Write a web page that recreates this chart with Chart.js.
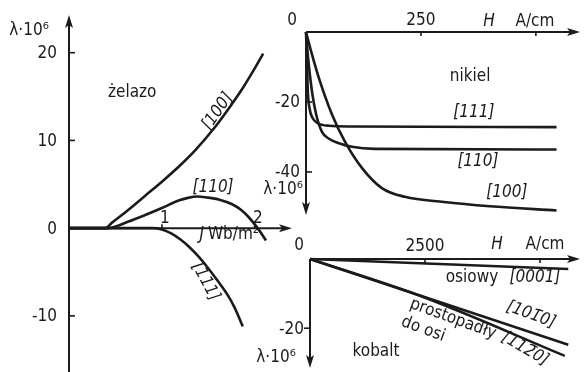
<!DOCTYPE html>
<html>
<head>
<meta charset="utf-8">
<script src="https://cdn.jsdelivr.net/npm/chart.js@4"></script>
<style>
  body { margin: 0; background: #fff; }
  #wrap { position: relative; width: 586px; height: 372px; overflow: hidden; background: #fff; }
  #wrap canvas { position: absolute; }
</style>
</head>
<body>
<div id="wrap">
  <canvas id="feChart" width="300" height="372" style="left:0;top:0"></canvas>
  <canvas id="niChart" width="324" height="232" style="left:262px;top:0"></canvas>
  <canvas id="coChart" width="346" height="136" style="left:240px;top:236px"></canvas>
</div>
<script>
// żelazo: λ·10⁶ against J [Wb/m²]
const feJ100 = [0, 0.39, 0.46, 0.64, 0.82, 1.0, 1.18, 1.36, 1.57, 1.71, 1.86, 1.97, 2.09];
const feL100 = [0, 0, 0.6, 2.1, 3.7, 5.3, 7.0, 8.9, 11.5, 13.5, 15.8, 17.7, 19.9];
const feJ110 = [0, 0.42, 0.64, 0.82, 1.0, 1.18, 1.28, 1.38, 1.48, 1.62, 1.75, 1.85, 1.93, 2.03, 2.12];
const feL110 = [0, 0, 0.75, 1.5, 2.3, 3.15, 3.45, 3.6, 3.5, 3.25, 2.75, 2.1, 1.3, 0, -1.4];
const feJ111 = [0, 0.9, 1.0, 1.1, 1.2, 1.3, 1.4, 1.5, 1.6, 1.7, 1.78, 1.87];
const feL111 = [0, 0, -0.15, -0.6, -1.3, -2.2, -3.3, -4.6, -6.0, -7.5, -9.0, -11.2];
const feYTicks = [20, 10, 0, -10];
const feXTicks = [1, 2];

// nikiel: λ·10⁶ against H [A/cm]
const niH111 = [0, 2, 4, 8, 14, 25, 50, 100, 545];
const niL111 = [0, -8, -17, -22, -24.5, -26, -26.8, -27, -27.2];
const niH110 = [0, 5, 13, 22, 35, 50, 70, 100, 150, 545];
const niL110 = [0, -8, -17, -23.5, -28.6, -30.5, -31.7, -32.8, -33.4, -33.6];
const niH100 = [0, 10, 26, 57, 85, 122, 165, 215, 300, 400, 545];
const niL100 = [0, -5, -12.3, -23.7, -31.4, -38.9, -44.6, -47.1, -48.6, -49.8, -51];
const niYTicks = [-20, -40];
const niXTicks = [250, 500];
const niXTickLabels = ['250', ''];

// kobalt: λ·10⁶ against H [A/cm]
const coH0001 = [0, 5615];
const coL0001 = [0, -2.9];
const coH1010 = [0, 5615];
const coL1010 = [0, -24.8];
const coH1120 = [0, 2460, 5540];
const coL1120 = [0, -11, -28];
const coYTicks = [-20];
const coXTicks = [2500, 5000];
const coXTickLabels = ['2500', ''];

const INK = '#1b1b1b';
const FAMILY = '"DejaVu Sans Condensed", "DejaVu Sans", sans-serif';
const FONT = '17px ' + FAMILY;
const ITALIC = 'italic 17px ' + FAMILY;

function pts(xs, ys) {
  return xs.map((x, i) => ({ x: x, y: ys[i] }));
}

function arrow(ctx, x, y, dx, dy) {
  const len = 13, half = 4;
  const px = -dy, py = dx;
  ctx.beginPath();
  ctx.moveTo(x, y);
  ctx.lineTo(x - dx * len + px * half, y - dy * len + py * half);
  ctx.lineTo(x - dx * (len - 3), y - dy * (len - 3));
  ctx.lineTo(x - dx * len - px * half, y - dy * len - py * half);
  ctx.closePath();
  ctx.fill();
}

function text(ctx, t, x, y, rot, font, align) {
  ctx.save();
  ctx.translate(x, y);
  ctx.rotate((rot || 0) * Math.PI / 180);
  ctx.font = font || FONT;
  ctx.textAlign = align || 'center';
  ctx.textBaseline = 'middle';
  ctx.fillText(t, 0, 0);
  ctx.restore();
}

// axes through zero with arrow heads, short ticks and the labels
const decorPlugin = {
  id: 'decor',
  afterDatasetsDraw(chart, args, o) {
    const ctx = chart.ctx;
    const xs = chart.scales.x, ys = chart.scales.y;
    const x0 = xs.getPixelForValue(0), y0 = ys.getPixelForValue(0);
    ctx.save();
    ctx.strokeStyle = INK;
    ctx.fillStyle = INK;
    ctx.lineWidth = 2;
    ctx.lineCap = 'butt';

    // x axis
    ctx.beginPath();
    ctx.moveTo(x0, y0);
    ctx.lineTo(xs.right - 8, y0);
    ctx.stroke();
    arrow(ctx, xs.right, y0, 1, 0);

    // y axis
    ctx.beginPath();
    if (o.yArrow === 'up') {
      ctx.moveTo(x0, chart.height);
      ctx.lineTo(x0, ys.top + 8);
      ctx.stroke();
      arrow(ctx, x0, ys.top, 0, -1);
    } else {
      ctx.moveTo(x0, y0);
      ctx.lineTo(x0, ys.bottom - 8);
      ctx.stroke();
      arrow(ctx, x0, ys.bottom, 0, 1);
    }

    ctx.lineWidth = 1.6;
    o.yTicks.forEach(v => {
      const y = ys.getPixelForValue(v);
      if (v !== 0) {
        ctx.beginPath();
        ctx.moveTo(x0, y);
        ctx.lineTo(x0 + o.yTickLen, y);
        ctx.stroke();
      }
      text(ctx, String(v), x0 - o.yLabelGap, y + 1, 0, FONT, 'right');
    });
    o.xTicks.forEach((v, i) => {
      const x = xs.getPixelForValue(v);
      ctx.beginPath();
      ctx.moveTo(x, y0);
      ctx.lineTo(x, y0 + o.xTickLen);
      ctx.stroke();
      text(ctx, o.xTickLabels[i], x + o.xLabelDx, y0 + o.xLabelDy);
    });

    o.texts.forEach(t => {
      text(ctx, t.t, xs.getPixelForValue(t.x), ys.getPixelForValue(t.y), t.rot, t.it ? ITALIC : FONT);
    });
    ctx.restore();
  }
};

function makeChart(id, series, xRange, yRange, pad, decor) {
  return new Chart(document.getElementById(id), {
    type: 'scatter',
    data: {
      datasets: series.map(s => ({
        data: s,
        showLine: true,
        borderColor: INK,
        borderWidth: 2.6,
        pointRadius: 0,
        cubicInterpolationMode: 'monotone',
        fill: false,
        clip: false
      }))
    },
    options: {
      responsive: false,
      animation: false,
      events: [],
      layout: { padding: pad },
      scales: {
        x: { type: 'linear', display: false, min: xRange[0], max: xRange[1] },
        y: { type: 'linear', display: false, min: yRange[0], max: yRange[1] }
      },
      plugins: { legend: { display: false }, tooltip: { enabled: false }, decor: decor }
    },
    plugins: [decorPlugin]
  });
}

makeChart('feChart',
  [pts(feJ100, feL100), pts(feJ110, feL110), pts(feJ111, feL111)],
  [0, 2.4], [-16.4, 24.3],
  { left: 69, right: 8, top: 15, bottom: 0 },
  {
    yArrow: 'up', yTicks: feYTicks, yTickLen: 6, yLabelGap: 12,
    xTicks: feXTicks, xTickLabels: feXTicks.map(String), xTickLen: -4, xLabelDx: 3, xLabelDy: -10,
    texts: [
      { t: 'λ·10⁶', x: -0.43, y: 22.5 },
      { t: 'żelazo', x: 0.68, y: 15.5 },
      { t: '[100]', x: 1.60, y: 13.3, rot: -55, it: true },
      { t: '[110]', x: 1.55, y: 4.6, it: true },
      { t: '[111]', x: 1.47, y: -6.1, rot: 62, it: true },
      { t: 'J', x: 1.43, y: -0.7, it: true },
      { t: 'Wb/m²', x: 1.77, y: -0.7 }
    ]
  });

makeChart('niChart',
  [pts(niH111, niL111), pts(niH110, niL110), pts(niH100, niL100)],
  [0, 596], [-52.3, 0],
  { left: 44, right: 6, top: 32, bottom: 17 },
  {
    yArrow: 'down', yTicks: niYTicks, yTickLen: 6, yLabelGap: 6,
    xTicks: niXTicks, xTickLabels: niXTickLabels, xTickLen: 4, xLabelDx: 0, xLabelDy: -11,
    texts: [
      { t: '0', x: -30, y: 3.4 },
      { t: 'H', x: 398, y: 3.1, it: true },
      { t: 'A/cm', x: 498, y: 3.1 },
      { t: 'nikiel', x: 357, y: -12.6 },
      { t: '[111]', x: 365, y: -22.9, it: true },
      { t: '[110]', x: 374, y: -37.1, it: true },
      { t: '[100]', x: 437, y: -46, it: true },
      { t: 'λ·10⁶', x: -50, y: -44.9 }
    ]
  });

makeChart('coChart',
  [pts(coH0001, coL0001), pts(coH1010, coL1010), pts(coH1120, coL1120)],
  [0, 5870], [-31.5, 0],
  { left: 70, right: 6, top: 23, bottom: 4 },
  {
    yArrow: 'down', yTicks: coYTicks, yTickLen: -6, yLabelGap: 6,
    xTicks: coXTicks, xTickLabels: coXTickLabels, xTickLen: 4, xLabelDx: 0, xLabelDy: -12,
    texts: [
      { t: '0', x: -239, y: 3.9 },
      { t: 'H', x: 4065, y: 4.1, it: true },
      { t: 'A/cm', x: 5109, y: 4.1 },
      { t: 'osiowy', x: 3522, y: -5.4 },
      { t: '[0001]', x: 4891, y: -5.4, it: true },
      { t: 'prostopadły', x: 3109, y: -17.3, rot: 20 },
      { t: 'do osi', x: 2460, y: -20.3, rot: 20 },
      { t: '[101\u03040]', x: 4804, y: -16.1, rot: 20, it: true },
      { t: '[112\u03040]', x: 4674, y: -26.0, rot: 30, it: true },
      { t: 'kobalt', x: 1435, y: -26.8 },
      { t: 'λ·10⁶', x: -739, y: -28.6 }
    ]
  });
</script>
</body>
</html>
